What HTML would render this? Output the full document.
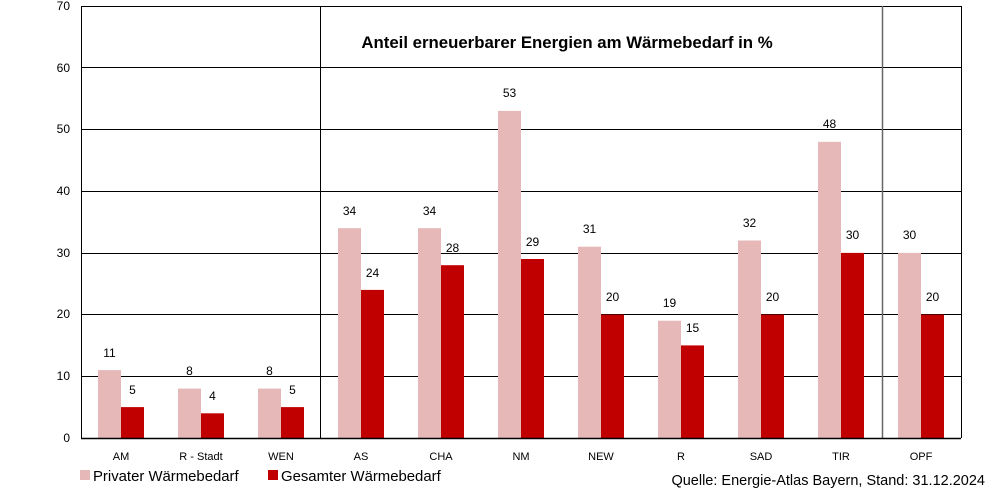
<!DOCTYPE html>
<html><head><meta charset="utf-8"><style>
html,body{margin:0;padding:0;background:#fff;}
svg{display:block;font-family:"Liberation Sans",Arial,sans-serif;}
</style></head><body>
<svg width="988" height="488" viewBox="0 0 988 488" xmlns="http://www.w3.org/2000/svg">
<g stroke="#000" stroke-width="1">
<line x1="81" y1="376.5" x2="961" y2="376.5"/>
<line x1="81" y1="314.5" x2="961" y2="314.5"/>
<line x1="81" y1="253.5" x2="961" y2="253.5"/>
<line x1="81" y1="191.5" x2="961" y2="191.5"/>
<line x1="81" y1="129.5" x2="961" y2="129.5"/>
<line x1="81" y1="67.5" x2="961" y2="67.5"/>
<line x1="81" y1="6.5" x2="961" y2="6.5"/>
<line x1="320.5" y1="6" x2="320.5" y2="438"/>
<line x1="882.5" y1="6" x2="882.5" y2="438" stroke="#666" stroke-width="1.5"/>
<line x1="961.5" y1="6" x2="961.5" y2="438"/>
<line x1="81.5" y1="6" x2="81.5" y2="438"/>
</g>
<g fill="#e6b8b7">
<rect x="98" y="370.1" width="23" height="67.9"/>
<rect x="178" y="388.6" width="23" height="49.4"/>
<rect x="258" y="388.6" width="23" height="49.4"/>
<rect x="338" y="228.2" width="23" height="209.8"/>
<rect x="418" y="228.2" width="23" height="209.8"/>
<rect x="498" y="110.9" width="23" height="327.1"/>
<rect x="578" y="246.7" width="23" height="191.3"/>
<rect x="658" y="320.7" width="23" height="117.3"/>
<rect x="738" y="240.5" width="23" height="197.5"/>
<rect x="818" y="141.8" width="23" height="296.2"/>
<rect x="898" y="252.9" width="23" height="185.1"/>
</g>
<g fill="#c00000">
<rect x="121" y="407.1" width="23" height="30.9"/>
<rect x="201" y="413.3" width="23" height="24.7"/>
<rect x="281" y="407.1" width="23" height="30.9"/>
<rect x="361" y="289.9" width="23" height="148.1"/>
<rect x="441" y="265.2" width="23" height="172.8"/>
<rect x="521" y="259" width="23" height="179"/>
<rect x="601" y="314.6" width="23" height="123.4"/>
<rect x="681" y="345.4" width="23" height="92.6"/>
<rect x="761" y="314.6" width="23" height="123.4"/>
<rect x="841" y="252.9" width="23" height="185.1"/>
<rect x="921" y="314.6" width="23" height="123.4"/>
</g>
<line x1="81" y1="438.5" x2="961" y2="438.5" stroke="#000" stroke-width="1.5"/>
<g font-size="12" text-anchor="middle" fill="#000">
<text x="109.5" y="357">11</text><text x="132.5" y="394">5</text>
<text x="189.5" y="375">8</text><text x="212.5" y="400">4</text>
<text x="269.5" y="375">8</text><text x="292.5" y="394">5</text>
<text x="349.5" y="215">34</text><text x="372.5" y="277">24</text>
<text x="429.5" y="215">34</text><text x="452.5" y="252">28</text>
<text x="509.5" y="97">53</text><text x="532.5" y="246">29</text>
<text x="589.5" y="233">31</text><text x="612.5" y="301">20</text>
<text x="669.5" y="307">19</text><text x="692.5" y="332">15</text>
<text x="749.5" y="227">32</text><text x="772.5" y="301">20</text>
<text x="829.5" y="128">48</text><text x="852.5" y="239">30</text>
<text x="909.5" y="239">30</text><text x="932.5" y="301">20</text>
</g>
<g font-size="11" text-anchor="middle" fill="#000">
<text x="121" y="460">AM</text><text x="201" y="460">R - Stadt</text><text x="281" y="460">WEN</text>
<text x="361" y="460">AS</text><text x="441" y="460">CHA</text><text x="521" y="460">NM</text>
<text x="601" y="460">NEW</text><text x="681" y="460">R</text><text x="761" y="460">SAD</text>
<text x="841" y="460">TIR</text><text x="921" y="460">OPF</text>
</g>
<g font-size="12" text-anchor="end" fill="#000">
<text x="70" y="442">0</text><text x="70" y="380">10</text><text x="70" y="318">20</text>
<text x="70" y="257">30</text><text x="70" y="195">40</text><text x="70" y="133">50</text>
<text x="70" y="72">60</text><text x="70" y="10">70</text>
</g>
<text x="567" y="48" font-size="16.8" font-weight="bold" text-anchor="middle">Anteil erneuerbarer Energien am Wärmebedarf in %</text>
<rect x="80" y="470" width="10" height="10" fill="#e6b8b7"/>
<text x="93" y="481" font-size="14.9">Privater Wärmebedarf</text>
<rect x="268" y="470" width="10" height="10" fill="#c00000"/>
<text x="281" y="481" font-size="14.9">Gesamter Wärmebedarf</text>
<text x="985" y="485" font-size="14.5" text-anchor="end">Quelle: Energie-Atlas Bayern, Stand: 31.12.2024</text>
</svg>
</body></html>
